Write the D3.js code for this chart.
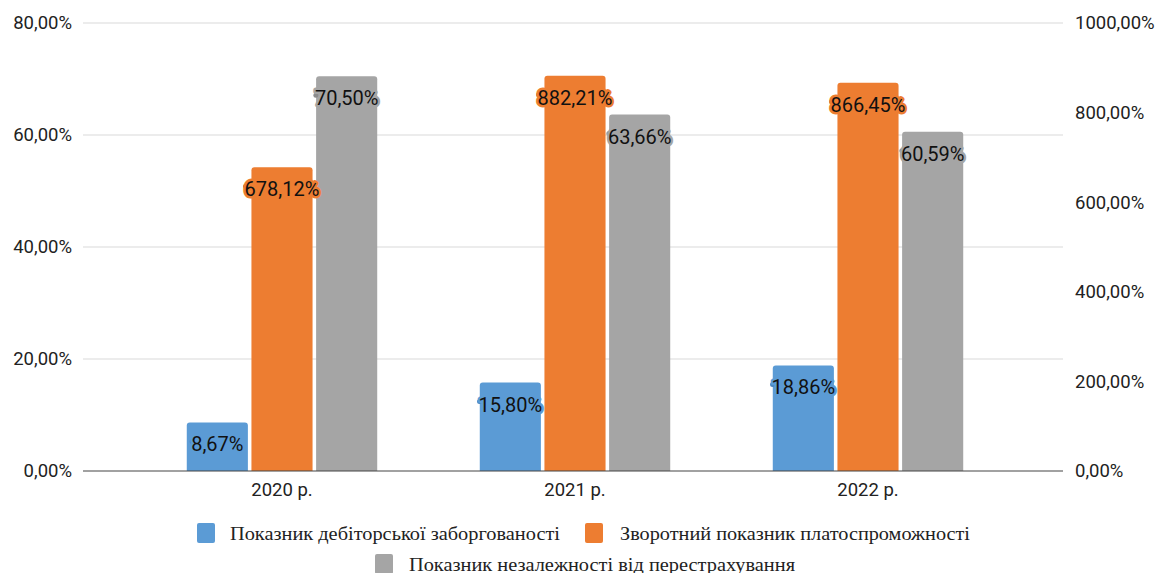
<!DOCTYPE html>
<html><head><meta charset="utf-8">
<script src="https://cdn.jsdelivr.net/npm/d3@7"></script>
<style>
body{margin:0;background:#fff;}
svg{display:block;}
</style></head>
<body>
<svg id="chart" width="1167" height="573"></svg>
<script>
const categories = ["2020 р.", "2021 р.", "2022 р."];
const seriesNames = ["Показник дебіторської заборгованості", "Зворотний показник платоспроможності", "Показник незалежності від перестрахування"];
const debtValues = [8.67, 15.80, 18.86];
const solvencyValues = [678.12, 882.21, 866.45];
const independenceValues = [70.50, 63.66, 60.59];
const seriesAxis = ["left", "right", "left"];
const leftTicks = [0, 20, 40, 60, 80];
const rightTicks = [0, 200, 400, 600, 800, 1000];
const colors = ["#5B9BD5", "#ED7D31", "#A5A5A5"];
const dotColors = ["#4a86bf", "#d8691f", "#8c8c8c"];

const svg = d3.select("#chart");
const plotTop = 23, plotBottom = 471, gridL = 83, gridR = 1063;
const fmt = v => d3.format(".2f")(v).replace(".", ",") + "%";

const yL = d3.scaleLinear().domain([0, 80]).range([plotBottom, plotTop]);
const yR = d3.scaleLinear().domain([0, 1000]).range([plotBottom, plotTop]);
const x0 = d3.scaleBand().domain(categories).range([135.5, 1014.5]).paddingInner(0.35).paddingOuter(0.175);
const x1 = d3.scaleBand().domain([0,1,2]).range([0, x0.bandwidth()]).paddingInner(0.055);

// gridlines
svg.append("g").selectAll("line").data(leftTicks.filter(t => t > 0)).join("line")
  .attr("x1", gridL).attr("x2", gridR)
  .attr("y1", d => yL(d)).attr("y2", d => yL(d))
  .attr("stroke", "#d9d9d9").attr("stroke-width", 1.2);

// left axis
const axL = d3.axisLeft(yL).tickValues(leftTicks).tickFormat(fmt).tickSize(0).tickPadding(0);
const gL = svg.append("g").attr("transform", "translate(72,0)").call(axL);
gL.select(".domain").remove();
gL.selectAll("text").attr("font-family", "Roboto, sans-serif").attr("font-size", 18.5).attr("fill", "#222");

const axR = d3.axisRight(yR).tickValues(rightTicks).tickFormat(fmt).tickSize(0).tickPadding(0);
const gR = svg.append("g").attr("transform", "translate(1075,0)").call(axR);
gR.select(".domain").remove();
gR.selectAll("text").attr("font-family", "Roboto, sans-serif").attr("font-size", 18.5).attr("fill", "#222");

// bars
const seriesVals = [debtValues, solvencyValues, independenceValues];
const data = [];
categories.forEach((c, i) => {
  seriesVals.forEach((vals, s) => {
    data.push({cat: c, s, v: vals[i], y: seriesAxis[s] === "left" ? yL : yR});
  });
});

function topRounded(x, y, w, h, r) {
  return `M${x},${y+h}V${y+r}Q${x},${y} ${x+r},${y}H${x+w-r}Q${x+w},${y} ${x+w},${y+r}V${y+h}Z`;
}

svg.append("g").selectAll("path").data(data).join("path")
  .attr("d", d => {
    const bx = x0(d.cat) + x1(d.s), by = d.y(d.v);
    return topRounded(bx, by, x1.bandwidth(), plotBottom - by, 3);
  })
  .attr("fill", d => colors[d.s]);

// baseline
svg.append("line").attr("x1", gridL).attr("x2", gridR).attr("y1", plotBottom).attr("y2", plotBottom)
  .attr("stroke", "#444").attr("stroke-width", 1.2);

// x labels
const axX = d3.axisBottom(x0).tickSize(0).tickPadding(0);
const gX = svg.append("g").attr("transform", `translate(0,${plotBottom + 12})`).call(axX);
gX.select(".domain").remove();
gX.selectAll("text").attr("font-family", "Roboto, sans-serif").attr("font-size", 18.5).attr("fill", "#222").attr("dy", "0.71em");

// value labels
const lbl = svg.append("g").selectAll("g").data(data).join("g")
  .attr("transform", d => `translate(${x0(d.cat) + x1(d.s) + x1.bandwidth()/2},${d.y(d.v) + 22})`);
lbl.append("text")
  .attr("text-anchor", "middle").attr("dy", "0.35em")
  .attr("font-family", "Roboto, sans-serif").attr("font-size", 20)
  .attr("fill", "#111")
  .attr("stroke", d => colors[d.s]).attr("stroke-width", 5).attr("stroke-linejoin", "round")
  .attr("paint-order", "stroke")
  .text(d => fmt(d.v));
lbl.each(function(d) {
  const t = d3.select(this).select("text").node().getBBox();
  d3.select(this).insert("circle", "text").attr("cx", t.x + 1).attr("cy", -3).attr("r", 2.5).attr("fill", dotColors[d.s]);
});

// legend
const legendRows = [
  {i: 0, sx: 197, tx: 230, tw: 330, cy: 533},
  {i: 1, sx: 585, tx: 620, tw: 350, cy: 533},
  {i: 2, sx: 375, tx: 409, tw: 386, cy: 564}
];
const lg = svg.append("g").selectAll("g").data(legendRows).join("g");
lg.append("rect").attr("x", d => d.sx).attr("y", d => d.cy - 10).attr("width", 18).attr("height", 20).attr("rx", 2)
  .attr("fill", d => colors[d.i]);
lg.append("text").attr("x", d => d.tx).attr("y", d => d.cy).attr("dy", "0.35em")
  .attr("font-family", "'Liberation Serif', 'Times New Roman', serif").attr("font-size", 19)
  .attr("fill", "#222")
  .attr("textLength", d => d.tw).attr("lengthAdjust", "spacingAndGlyphs")
  .text(d => seriesNames[d.i]);
</script>
</body></html>
